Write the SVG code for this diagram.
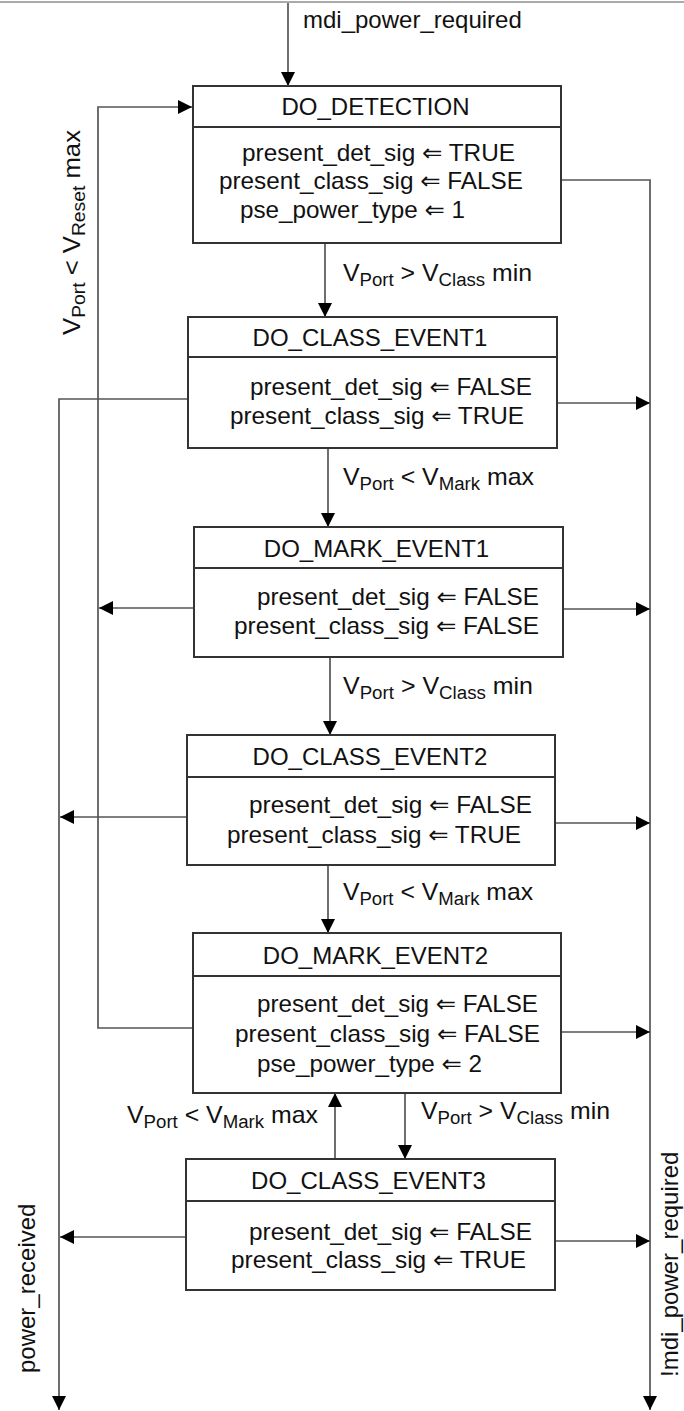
<svg xmlns="http://www.w3.org/2000/svg" width="684" height="1411" viewBox="0 0 684 1411">
<style>
text{font-family:"Liberation Sans",Arial,"DejaVu Sans",sans-serif;font-size:24px;fill:#111}
.t{text-anchor:middle}
.sub{font-size:18px}
.box{fill:#fff;stroke:#333;stroke-width:2}
.div{stroke:#333;stroke-width:2}
.c{fill:none;stroke:#555;stroke-width:1.7}
</style>
<defs>
<marker id="ah" markerUnits="userSpaceOnUse" markerWidth="15" markerHeight="14" refX="14" refY="7" orient="auto">
<path d="M0,0 L14,7 L0,14 z" fill="#000"/>
</marker>
</defs>
<rect width="684" height="1411" fill="#fff"/>
<line x1="0" y1="2" x2="684" y2="2" stroke="#aaa" stroke-width="2"/>

<g id="connectors">
<path class="c" d="M288,3 V86" marker-end="url(#ah)"/>
<path class="c" d="M193,1028 H98 V107 H192" marker-end="url(#ah)"/>
<path class="c" d="M194,608 H99" marker-end="url(#ah)"/>
<path class="c" d="M188,399 H59 V1410" marker-end="url(#ah)"/>
<path class="c" d="M187,817 H60" marker-end="url(#ah)"/>
<path class="c" d="M186,1237 H60" marker-end="url(#ah)"/>
<path class="c" d="M561,180 H650 V1410" marker-end="url(#ah)"/>
<path class="c" d="M557,403 H650" marker-end="url(#ah)"/>
<path class="c" d="M563,609 H650" marker-end="url(#ah)"/>
<path class="c" d="M555,823 H650" marker-end="url(#ah)"/>
<path class="c" d="M561,1032 H650" marker-end="url(#ah)"/>
<path class="c" d="M555,1241 H650" marker-end="url(#ah)"/>
<path class="c" d="M325,243 V317" marker-end="url(#ah)"/>
<path class="c" d="M328,448 V527" marker-end="url(#ah)"/>
<path class="c" d="M330,657 V735" marker-end="url(#ah)"/>
<path class="c" d="M328,865 V933" marker-end="url(#ah)"/>
<path class="c" d="M335,1159 V1093" marker-end="url(#ah)"/>
<path class="c" d="M405,1093 V1159" marker-end="url(#ah)"/>

<text x="303" y="28">mdi_power_required</text>
<text transform="translate(80,335) rotate(-90)" textLength="205" lengthAdjust="spacingAndGlyphs">V<tspan class="sub" dy="5">Port</tspan><tspan dy="-5"> &lt; V</tspan><tspan class="sub" dy="5">Reset</tspan><tspan dy="-5"> max</tspan></text>
<text transform="translate(35,1373) rotate(-90)">power_received</text>
<text transform="translate(678,1377) rotate(-90)">!mdi_power_required</text>
<text x="343" y="281" textLength="189" lengthAdjust="spacingAndGlyphs">V<tspan class="sub" dy="5">Port</tspan><tspan dy="-5"> &gt; V</tspan><tspan class="sub" dy="5">Class</tspan><tspan dy="-5"> min</tspan></text>
<text x="343" y="485" textLength="191" lengthAdjust="spacingAndGlyphs">V<tspan class="sub" dy="5">Port</tspan><tspan dy="-5"> &lt; V</tspan><tspan class="sub" dy="5">Mark</tspan><tspan dy="-5"> max</tspan></text>
<text x="343" y="694" textLength="190" lengthAdjust="spacingAndGlyphs">V<tspan class="sub" dy="5">Port</tspan><tspan dy="-5"> &gt; V</tspan><tspan class="sub" dy="5">Class</tspan><tspan dy="-5"> min</tspan></text>
<text x="343" y="900" textLength="190" lengthAdjust="spacingAndGlyphs">V<tspan class="sub" dy="5">Port</tspan><tspan dy="-5"> &lt; V</tspan><tspan class="sub" dy="5">Mark</tspan><tspan dy="-5"> max</tspan></text>
<text x="127" y="1123" textLength="191" lengthAdjust="spacingAndGlyphs">V<tspan class="sub" dy="5">Port</tspan><tspan dy="-5"> &lt; V</tspan><tspan class="sub" dy="5">Mark</tspan><tspan dy="-5"> max</tspan></text>
<text x="421" y="1119" textLength="189" lengthAdjust="spacingAndGlyphs">V<tspan class="sub" dy="5">Port</tspan><tspan dy="-5"> &gt; V</tspan><tspan class="sub" dy="5">Class</tspan><tspan dy="-5"> min</tspan></text>
</g>

<g id="do_detection">
<rect class="box" x="193" y="86" width="368" height="157"/>
<line class="div" x1="193" y1="127" x2="561" y2="127"/>
<text class="t" x="375.5" y="115">DO_DETECTION</text>
<text x="242" y="161" textLength="273" lengthAdjust="spacingAndGlyphs">present_det_sig ⇐ TRUE</text>
<text x="219" y="189" textLength="304" lengthAdjust="spacingAndGlyphs">present_class_sig ⇐ FALSE</text>
<text x="240" y="218" textLength="225" lengthAdjust="spacingAndGlyphs">pse_power_type ⇐ 1</text>
</g>

<g id="do_class_event1">
<rect class="box" x="188" y="317" width="369" height="131"/>
<line class="div" x1="188" y1="357" x2="557" y2="357"/>
<text class="t" x="370" y="346">DO_CLASS_EVENT1</text>
<text x="250" y="395" textLength="282" lengthAdjust="spacingAndGlyphs">present_det_sig ⇐ FALSE</text>
<text x="230" y="424" textLength="294" lengthAdjust="spacingAndGlyphs">present_class_sig ⇐ TRUE</text>
</g>

<g id="do_mark_event1">
<rect class="box" x="194" y="527" width="369" height="130"/>
<line class="div" x1="194" y1="568" x2="563" y2="568"/>
<text class="t" x="376.5" y="557">DO_MARK_EVENT1</text>
<text x="257" y="605" textLength="282" lengthAdjust="spacingAndGlyphs">present_det_sig ⇐ FALSE</text>
<text x="234" y="634" textLength="305" lengthAdjust="spacingAndGlyphs">present_class_sig ⇐ FALSE</text>
</g>

<g id="do_class_event2">
<rect class="box" x="187" y="735" width="368" height="130"/>
<line class="div" x1="187" y1="777" x2="555" y2="777"/>
<text class="t" x="370" y="765">DO_CLASS_EVENT2</text>
<text x="249" y="813" textLength="283" lengthAdjust="spacingAndGlyphs">present_det_sig ⇐ FALSE</text>
<text x="227" y="843" textLength="294" lengthAdjust="spacingAndGlyphs">present_class_sig ⇐ TRUE</text>
</g>

<g id="do_mark_event2">
<rect class="box" x="193" y="933" width="368" height="160"/>
<line class="div" x1="193" y1="976" x2="561" y2="976"/>
<text class="t" x="375.5" y="964">DO_MARK_EVENT2</text>
<text x="257" y="1012" textLength="281" lengthAdjust="spacingAndGlyphs">present_det_sig ⇐ FALSE</text>
<text x="235" y="1042" textLength="305" lengthAdjust="spacingAndGlyphs">present_class_sig ⇐ FALSE</text>
<text x="257" y="1072" textLength="225" lengthAdjust="spacingAndGlyphs">pse_power_type ⇐ 2</text>
</g>

<g id="do_class_event3">
<rect class="box" x="186" y="1159" width="369" height="131"/>
<line class="div" x1="186" y1="1201" x2="555" y2="1201"/>
<text class="t" x="368.5" y="1189">DO_CLASS_EVENT3</text>
<text x="249" y="1240" textLength="283" lengthAdjust="spacingAndGlyphs">present_det_sig ⇐ FALSE</text>
<text x="231" y="1268" textLength="295" lengthAdjust="spacingAndGlyphs">present_class_sig ⇐ TRUE</text>
</g>
</svg>
